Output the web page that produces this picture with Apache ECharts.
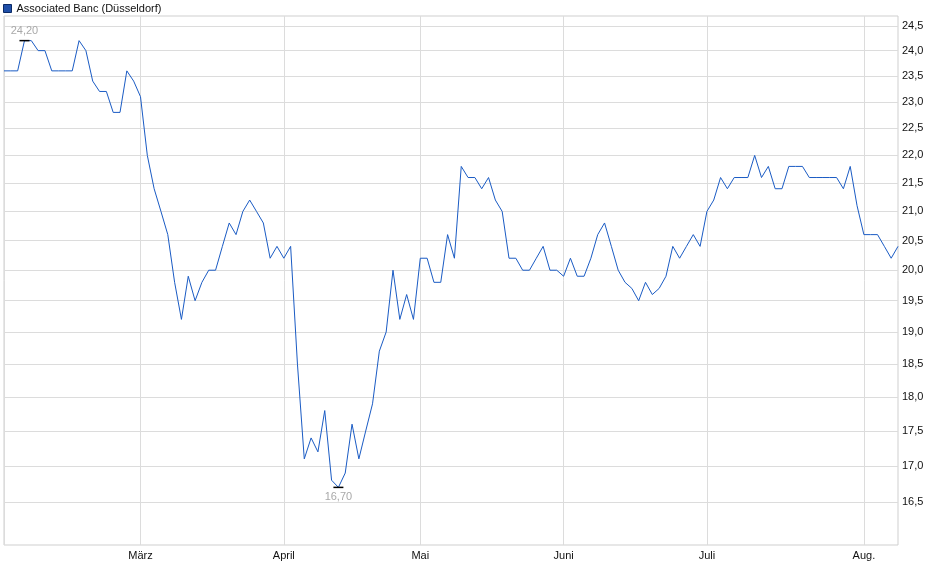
<!DOCTYPE html>
<html>
<head>
<meta charset="utf-8">
<script src="https://cdn.jsdelivr.net/npm/echarts@6/dist/echarts.min.js"></script>
<style>
html,body{margin:0;padding:0;background:#fff;}
#chart{width:940px;height:579px;}
</style>
</head>
<body>
<div id="chart"></div>
<script>
const seriesName = 'Associated Banc (Düsseldorf)';
const year = 2025;
// Trading days per month (Düsseldorf)
const daysFeb = [3,4,5,6,7,10,11,12,13,14,17,18,19,20,21,24,25,26,27,28];
const daysMar = [3,4,5,6,7,10,11,12,13,14,17,18,19,20,21,24,25,26,27,28,31];
const daysApr = [1,2,3,4,7,8,9,10,11,14,15,16,17,22,23,24,25,28,29,30];
const daysMay = [2,5,6,7,8,9,12,13,14,15,16,19,20,21,22,23,26,27,28,29,30];
const daysJun = [2,3,4,5,6,9,10,11,12,13,16,17,18,19,20,23,24,25,26,27,30];
const daysJul = [1,2,3,4,7,8,9,10,11,14,15,16,17,18,21,22,23,24,25,28,29,30,31];
const daysAug = [1,4,5,6,7,8];
const monthNames = ['Jan.','Feb.','März','April','Mai','Juni','Juli','Aug.','Sep.','Okt.','Nov.','Dez.'];
const yTicks = [16.5,17.0,17.5,18.0,18.5,19.0,19.5,20.0,20.5,21.0,21.5,22.0,22.5,23.0,23.5,24.0,24.5];
const prices = [
  23.6,23.6,23.6,24.2,24.2,24.0,24.0,23.6,23.6,23.6,
  23.6,24.2,24.0,23.4,23.2,23.2,22.8,22.8,23.6,23.4,
  23.1,22.0,21.4,21.0,20.6,19.8,19.2,19.9,19.5,19.8,
  20.0,20.0,20.4,20.8,20.6,21.0,21.2,21.0,20.8,20.2,
  20.4,20.2,20.4,18.5,17.1,17.4,17.2,17.8,16.8,16.7,
  16.9,17.6,17.1,17.5,17.9,18.7,19.0,20.0,19.2,19.6,
  19.2,20.2,20.2,19.8,19.8,20.6,20.2,21.8,21.6,21.6,
  21.4,21.6,21.2,21.0,20.2,20.2,20.0,20.0,20.2,20.4,
  20.0,20.0,19.9,20.2,19.9,19.9,20.2,20.6,20.8,20.4,
  20.0,19.8,19.7,19.5,19.8,19.6,19.7,19.9,20.4,20.2,
  20.4,20.6,20.4,21.0,21.2,21.6,21.4,21.6,21.6,21.6,
  22.0,21.6,21.8,21.4,21.4,21.8,21.8,21.8,21.6,21.6,
  21.6,21.6,21.6,21.4,21.8,21.1,20.6,20.6,20.6,20.4,
  20.2,20.4
];

const pad = n => (n < 10 ? '0' : '') + n;
const monthLists = [[2,daysFeb],[3,daysMar],[4,daysApr],[5,daysMay],[6,daysJun],[7,daysJul],[8,daysAug]];
const categories = [];
monthLists.forEach(([m, days]) => days.forEach(d => categories.push(year + '-' + pad(m) + '-' + pad(d))));
const isMonthStart = i => i === 0 || categories[i].slice(5,7) !== categories[i-1].slice(5,7);
const fmtComma = (v, d) => Number(v).toFixed(d).replace('.', ',');

const chart = echarts.init(document.getElementById('chart'), null, {renderer: 'canvas'});
chart.setOption({
  animation: false,
  backgroundColor: '#fff',
  textStyle: {fontFamily: '"Liberation Sans", Arial, sans-serif'},
  legend: {
    left: 0, top: 0, padding: [3, 0, 0, 3],
    itemWidth: 8, itemHeight: 8, icon: 'rect',
    selectedMode: false,
    textStyle: {fontSize: 11, color: '#111'},
    data: [{name: seriesName, itemStyle: {color: '#1f4fa8', borderColor: '#0b2a66', borderWidth: 1}}]
  },
  grid: {
    left: 4, right: 42, top: 16, bottom: 34,
    show: true, borderColor: '#cfcfcf', borderWidth: 1,
    containLabel: false, outerBoundsMode: 'none'
  },
  xAxis: {
    type: 'category',
    data: categories,
    boundaryGap: false,
    axisLine: {show: false},
    axisTick: {show: false},
    axisLabel: {
      interval: (i) => i > 0 && isMonthStart(i),
      formatter: v => monthNames[parseInt(v.slice(5,7), 10) - 1],
      fontSize: 11, color: '#111', margin: 5
    },
    splitLine: {show: true, interval: (i) => isMonthStart(i), lineStyle: {color: '#dcdcdc', width: 1}}
  },
  yAxis: {
    type: 'log', logBase: 10,
    min: 15.92, max: 24.70,
    position: 'right',
    axisLine: {show: false},
    axisTick: {show: false, customValues: yTicks},
    axisLabel: {customValues: yTicks, formatter: v => fmtComma(v, 1), fontSize: 11, color: '#111', margin: 4},
    splitLine: {show: true, lineStyle: {color: '#dcdcdc', width: 1}}
  },
  series: [{
    name: seriesName,
    type: 'line',
    data: prices,
    symbol: 'none',
    lineStyle: {color: '#1a5bc4', width: 1},
    itemStyle: {color: '#1f4fa8'},
    markPoint: {
      symbol: 'rect', symbolSize: [10, 1.5],
      itemStyle: {color: '#000'},
      label: {show: true, fontSize: 11, color: '#a9a9a9', formatter: p => fmtComma(p.value, 2)},
      data: [
        {type: 'max', label: {position: 'top', distance: 3}},
        {type: 'min', label: {position: 'bottom', distance: 3}}
      ]
    }
  }]
});
</script>
</body>
</html>
